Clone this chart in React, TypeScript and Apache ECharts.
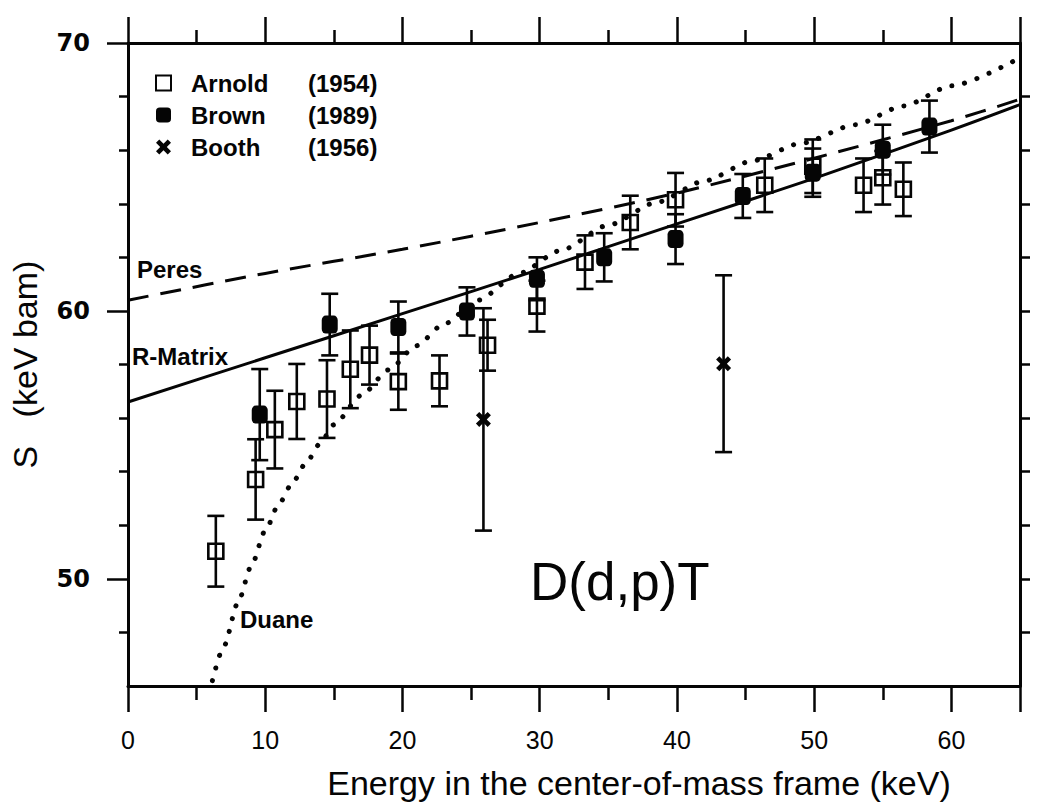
import React, { useEffect, useRef } from "react";
import * as echarts from "echarts";

// ---- axis ticks / labels ----
const X_MAJOR = [0, 10, 20, 30, 40, 50, 60];
const X_MAJOR_TICKS = [0, 10, 20, 30, 40, 50, 60, 65];
const X_MINOR = [5, 15, 25, 35, 45, 55];
const Y_MAJOR = [50, 60, 70];
const Y_MINOR = [48, 52, 54, 56, 58, 62, 64, 66, 68];
const Y_RIGHT = [48, 50, 52, 54, 56, 58, 60, 62, 64, 66, 68];

// ---- data: [energy keV, S keV·b, error] ----
const arnold = [
  [6.4, 51.03, 1.32],
  [9.3, 53.71, 1.5],
  [10.7, 55.57, 1.45],
  [12.3, 56.62, 1.4],
  [14.5, 56.71, 1.45],
  [16.2, 57.82, 1.45],
  [17.6, 58.35, 1.1],
  [19.7, 57.36, 1.05],
  [22.7, 57.39, 0.95],
  [26.2, 58.72, 0.95],
  [29.8, 60.18, 0.95],
  [33.3, 61.82, 1.0],
  [36.6, 63.3, 1.0],
  [39.9, 64.15, 1.0],
  [46.4, 64.69, 1.0],
  [49.9, 65.4, 1.0],
  [53.6, 64.69, 1.0],
  [55.0, 64.97, 1.0],
  [56.5, 64.54, 1.0],
];

const brown = [
  [9.6, 56.13, 1.7],
  [14.7, 59.49, 1.15],
  [19.7, 59.4, 0.95],
  [24.7, 59.98, 0.9],
  [29.8, 61.2, 0.8],
  [34.7, 62.0, 0.9],
  [39.9, 62.68, 0.93],
  [44.8, 64.29, 0.82],
  [49.9, 65.16, 0.9],
  [55.0, 66.02, 0.93],
  [58.4, 66.88, 0.97],
];

const booth = [
  [25.9, 55.95, 4.15],
  [43.4, 58.03, 3.3],
];

// ---- theory curves: [energy, S] ----
const rMatrix = [
  [0, 56.6], [10, 58.25], [20, 59.9], [30, 61.55], [40, 63.25], [50, 64.95], [60, 66.75], [65, 67.7],
];
const peres = [
  [0, 60.4], [10, 61.4], [20, 62.3], [30, 63.3], [40, 64.4], [50, 65.7], [60, 67.1], [65, 67.9],
];
const duane = [
  [6.15, 46.2], [7, 47.5], [8, 49.1], [9, 50.5], [10, 51.8], [11, 52.8], [12, 53.6], [13, 54.35],
  [14, 55.05], [15, 55.75], [17, 56.85], [19, 57.8], [21, 58.7], [23, 59.5], [25.5, 60.4],
  [28.5, 61.4], [31.5, 62.25], [35, 63.2], [38.5, 64.05], [42, 64.85], [45.5, 65.6], [49, 66.25],
  [53, 66.95], [56.5, 67.65], [60, 68.4], [65, 69.45],
];

const YEARS: Record<string, string> = { Arnold: "1954", Brown: "1989", Booth: "1956" };

const INK = "#050505";
const SANS = '"Liberation Sans", Arial, sans-serif';
const CROSS =
  "path://M0,2.2L2.2,0L5,2.8L7.8,0L10,2.2L7.2,5L10,7.8L7.8,10L5,7.2L2.2,10L0,7.8L2.8,5Z";

function errorBars(name: string, data: number[][]) {
  return {
    type: "custom",
    name,
    silent: true,
    z: 2,
    data: data.map(([e, s, err]) => [e, s - err, s + err]),
    encode: { x: 0, y: [1, 2] },
    renderItem: (_params: any, api: any) => {
      const x = api.value(0);
      const lo = api.coord([x, api.value(1)]);
      const hi = api.coord([x, api.value(2)]);
      const hw = 8.5;
      const style = { stroke: INK, lineWidth: 2.6 };
      return {
        type: "group",
        children: [
          { type: "line", shape: { x1: lo[0], y1: lo[1], x2: hi[0], y2: hi[1] }, style },
          { type: "line", shape: { x1: hi[0] - hw, y1: hi[1], x2: hi[0] + hw, y2: hi[1] }, style },
          { type: "line", shape: { x1: lo[0] - hw, y1: lo[1], x2: lo[0] + hw, y2: lo[1] }, style },
        ],
      };
    },
  };
}

function tickAxis(extra: any) {
  return {
    type: "value",
    splitLine: { show: false },
    axisLine: { show: false },
    axisLabel: { show: false },
    ...extra,
  };
}

export default function App() {
  const ref = useRef<HTMLDivElement>(null);

  useEffect(() => {
    if (!ref.current) return;
    const chart = echarts.init(ref.current, null, { renderer: "svg" });
    const axisLineStyle = { color: INK, width: 3 };
    const tickStyle = { color: INK, width: 2.5 };
    const textCommon = { fill: INK, verticalAlign: "middle", textVerticalAlign: "middle" };

    const option: any = {
      animation: false,
      backgroundColor: "#fff",
      grid: { left: 123, right: 18, top: 43, bottom: 115 },
      xAxis: [
        tickAxis({
          min: 0,
          max: 65,
          position: "bottom",
          axisLine: { show: true, onZero: false, lineStyle: axisLineStyle },
          axisTick: { show: true, length: 26, customValues: X_MAJOR_TICKS, lineStyle: tickStyle },
          axisLabel: {
            show: true,
            customValues: X_MAJOR,
            margin: 41,
            fontSize: 25,
            fontFamily: SANS,
            color: INK,
          },
          name: "Energy in the center-of-mass frame (keV)",
          nameLocation: "middle",
          nameGap: 80,
          nameTextStyle: { fontSize: 34, fontFamily: SANS, color: INK, padding: [0, 0, 0, 130] },
        }),
        tickAxis({
          min: 0,
          max: 65,
          position: "bottom",
          axisTick: { show: true, length: 14, customValues: X_MINOR, lineStyle: tickStyle },
        }),
        tickAxis({
          min: 0,
          max: 65,
          position: "top",
          axisLine: { show: true, onZero: false, lineStyle: axisLineStyle },
          axisTick: { show: true, length: 26, customValues: X_MAJOR_TICKS, lineStyle: tickStyle },
        }),
        tickAxis({
          min: 0,
          max: 65,
          position: "top",
          axisTick: { show: true, length: 13, customValues: X_MINOR, lineStyle: tickStyle },
        }),
      ],
      yAxis: [
        tickAxis({
          min: 46,
          max: 70,
          position: "left",
          axisLine: { show: true, onZero: false, lineStyle: axisLineStyle },
          axisTick: { show: true, length: 21, customValues: Y_MAJOR, lineStyle: tickStyle },
          axisLabel: {
            show: true,
            customValues: Y_MAJOR,
            margin: 38,
            fontSize: 24,
            fontWeight: "bold",
            fontFamily: '"DejaVu Sans", sans-serif',
            color: INK,
          },
          name: "S   (keV bam)",
          nameLocation: "middle",
          nameGap: 86,
          nameRotate: 90,
          nameTextStyle: { fontSize: 34, fontFamily: SANS, color: INK },
        }),
        tickAxis({
          min: 46,
          max: 70,
          position: "left",
          axisTick: { show: true, length: 9, customValues: Y_MINOR, lineStyle: tickStyle },
        }),
        tickAxis({
          min: 46,
          max: 70,
          position: "right",
          axisLine: { show: true, onZero: false, lineStyle: axisLineStyle },
          axisTick: { show: true, length: 10, customValues: Y_RIGHT, lineStyle: tickStyle },
        }),
      ],
      legend: {
        data: ["Arnold", "Brown", "Booth"],
        orient: "vertical",
        left: 150,
        top: 66,
        itemWidth: 15,
        itemHeight: 15,
        itemGap: 8,
        selectedMode: false,
        formatter: (name: string) => `{n|${name}}{y|(${YEARS[name]})}`,
        textStyle: {
          rich: {
            n: {
              width: 117,
              padding: [0, 0, 0, 15],
              fontFamily: SANS,
              fontWeight: "bold",
              fontSize: 24,
              lineHeight: 26,
              color: INK,
            },
            y: {
              fontFamily: SANS,
              fontWeight: "bold",
              fontSize: 24,
              lineHeight: 26,
              color: INK,
            },
          },
        },
      },
      series: [
        {
          type: "line",
          name: "R-Matrix",
          data: rMatrix,
          symbol: "none",
          smooth: 0.3,
          lineStyle: { color: INK, width: 3 },
          z: 1,
        },
        {
          type: "line",
          name: "Peres",
          data: peres,
          symbol: "none",
          smooth: 0.3,
          lineStyle: { color: INK, width: 3, type: [21, 12] },
          z: 1,
        },
        {
          type: "line",
          name: "Duane",
          data: duane,
          symbol: "none",
          smooth: 0.25,
          smoothMonotone: "x",
          lineStyle: { color: INK, width: 5, type: [0.1, 13], cap: "round" },
          z: 1,
        },
        errorBars("Arnold err", arnold),
        errorBars("Brown err", brown),
        errorBars("Booth err", booth),
        {
          type: "scatter",
          name: "Arnold",
          data: arnold.map(([e, s]) => [e, s]),
          symbol: "rect",
          symbolSize: [15, 15],
          itemStyle: { color: "rgba(255,255,255,0)", borderColor: INK, borderWidth: 2.6, opacity: 1 },
          z: 3,
        },
        {
          type: "scatter",
          name: "Brown",
          data: brown.map(([e, s]) => [e, s]),
          symbol: "roundRect",
          symbolSize: [16, 18],
          itemStyle: { color: INK, opacity: 1 },
          z: 4,
        },
        {
          type: "scatter",
          name: "Booth",
          data: booth.map(([e, s]) => [e, s]),
          symbol: CROSS,
          symbolSize: 15,
          itemStyle: { color: INK, opacity: 1 },
          z: 4,
        },
      ],
      graphic: [
        {
          type: "text",
          x: 137,
          y: 269,
          style: { text: "Peres", fontSize: 24, fontWeight: "bold", fontFamily: SANS, ...textCommon },
        },
        {
          type: "text",
          x: 132,
          y: 356,
          style: { text: "R-Matrix", fontSize: 24, fontWeight: "bold", fontFamily: SANS, ...textCommon },
        },
        {
          type: "text",
          x: 240,
          y: 619,
          style: { text: "Duane", fontSize: 24, fontWeight: "bold", fontFamily: SANS, ...textCommon },
        },
        {
          type: "text",
          x: 530,
          y: 581,
          style: { text: "D(d,p)T", fontSize: 53, fontFamily: SANS, ...textCommon },
        },
      ],
    };

    chart.setOption(option);
    return () => chart.dispose();
  }, []);

  return (
    <div
      ref={ref}
      style={{ position: "absolute", left: 0, top: 0, width: 1038, height: 805, background: "#fff" }}
    />
  );
}
